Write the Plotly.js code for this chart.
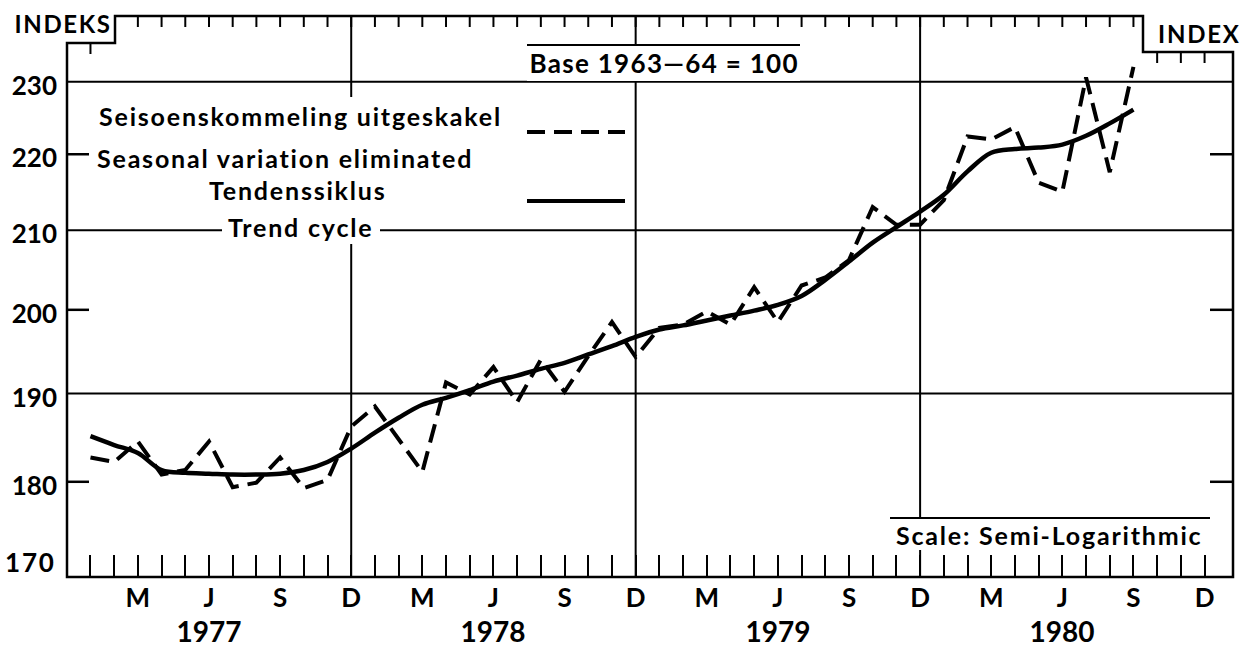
<!DOCTYPE html>
<html><head><meta charset="utf-8">
<script src="https://cdn.plot.ly/plotly-3.0.1.min.js"></script>
<style>
html,body{margin:0;padding:0;background:#fff}#chart{width:1244px;height:650px}
.annotation-text{letter-spacing:1.8px}
.annotation[data-index="4"] .annotation-text{letter-spacing:1.3px}
.annotation[data-index="6"] .annotation-text{letter-spacing:1.6px}
.annotation[data-index="8"] .annotation-text,.annotation[data-index="9"] .annotation-text,.annotation[data-index="10"] .annotation-text,.annotation[data-index="11"] .annotation-text{letter-spacing:0px}
</style>
</head><body><div id="chart"></div>
<script>
// ---- data ----
const months = [
 '1977-01','1977-02','1977-03','1977-04','1977-05','1977-06','1977-07','1977-08','1977-09','1977-10','1977-11','1977-12',
 '1978-01','1978-02','1978-03','1978-04','1978-05','1978-06','1978-07','1978-08','1978-09','1978-10','1978-11','1978-12',
 '1979-01','1979-02','1979-03','1979-04','1979-05','1979-06','1979-07','1979-08','1979-09','1979-10','1979-11','1979-12',
 '1980-01','1980-02','1980-03','1980-04','1980-05','1980-06','1980-07','1980-08','1980-09'];
const extraAxisMonths = ['1980-10','1980-11','1980-12'];
const seasonallyAdjusted = [
 182.7,182.2,184.5,180.8,181.3,184.5,179.4,179.9,182.7,179.3,180.2,186.2,
 188.5,184.7,181.1,191.3,189.9,193.1,189.0,194.0,190.2,194.4,198.5,194.3,
 197.8,198.2,199.8,198.2,202.8,198.5,203.0,204.0,206.2,213.0,210.7,210.7,
 213.9,222.4,222.0,223.7,216.2,215.0,230.6,217.6,232.1];
const trendCycle = [
 185.1,184.1,183.2,181.3,181.0,180.9,180.8,180.8,180.9,181.3,182.2,183.7,
 185.5,187.2,188.7,189.5,190.4,191.4,192.1,192.9,193.6,194.6,195.6,196.7,
 197.6,198.1,198.7,199.3,199.9,200.6,201.7,203.7,206.0,208.4,210.4,212.4,
 214.6,217.7,220.2,220.7,220.9,221.3,222.5,224.2,226.1];
const quarterLetters = {'03':'M','06':'J','09':'S','12':'D'};
const yearLabels = ['1977','1978','1979','1980'];
const yTickValues = [180,190,200,210,220,230];
const bottomValue = 170;
const gridValues = [190,210,230];
const shortTickValues = [180,200,220];
const decemberGrid = ['1977-12','1978-12','1979-12'];
const legendTexts = ['Seisoenskommeling uitgeskakel','Seasonal variation eliminated','Tendenssiklus','Trend cycle'];

// ---- geometry (pixels of the 1244x650 page) ----
const L = 67, R = 1233, T = 17, B = 577;
const fx = px => (px - L) / (R - L);
const fy = py => (B - py) / (B - T);
const FONT = 'Lato, "Open Sans", Roboto, sans-serif';
const axisMonths = months.concat(extraAxisMonths);
const idx = m => axisMonths.indexOf(m);

const shapes = [];
const line = (x0,y0,x1,y1,w,extra) => Object.assign({type:'line',xref:'paper',yref:'paper',x0:fx(x0),y0:fy(y0),x1:fx(x1),y1:fy(y1),line:{color:'#000',width:w}},extra||{});

gridValues.forEach(v => shapes.push({type:'line',xref:'paper',yref:'y',x0:0,x1:1,y0:v,y1:v,layer:'below',line:{color:'#000',width:2}}));
shortTickValues.forEach(v => {
  shapes.push({type:'line',xref:'paper',yref:'y',x0:0,x1:fx(89),y0:v,y1:v,layer:'below',line:{color:'#000',width:2.5}});
  shapes.push({type:'line',xref:'paper',yref:'y',x0:fx(1210),x1:1,y0:v,y1:v,layer:'below',line:{color:'#000',width:2.5}});
});
decemberGrid.forEach(m => shapes.push({type:'line',xref:'x',yref:'paper',x0:idx(m),x1:idx(m),y0:0,y1:1,layer:'below',line:{color:'#000',width:2}}));
shapes.push({type:'rect',xref:'paper',yref:'paper',x0:fx(92),x1:fx(510),y0:fy(97),y1:fy(220),layer:'below',fillcolor:'#fff',line:{width:0}});
shapes.push({type:'rect',xref:'paper',yref:'paper',x0:fx(222),x1:fx(380),y0:fy(218),y1:fy(244),layer:'below',fillcolor:'#fff',line:{width:0}});
shapes.push({type:'rect',xref:'paper',yref:'paper',x0:fx(527),x1:fx(800),y0:fy(45),y1:fy(81),layer:'below',fillcolor:'#fff',line:{width:0}});
shapes.push(line(527,45,800,45,1.8,{layer:'below'}));
shapes.push({type:'rect',xref:'paper',yref:'paper',x0:fx(890),x1:fx(1212),y0:fy(518),y1:fy(550),layer:'below',fillcolor:'#fff',line:{width:0}});
shapes.push(line(890,518,1210,518,1.8,{layer:'below'}));
shapes.push(line(527,132,625,132,4,{line:{color:'#000',width:4,dash:'18px,9px'}}));
shapes.push(line(527,201,625,201,4));
const P = (x,y) => fx(x).toFixed(5)+','+fy(y).toFixed(5);
shapes.push({type:'path',xref:'paper',yref:'paper',
  path:'M'+P(67,43)+' L'+P(115,43)+' L'+P(115,16)+' L'+P(1143,16)+' L'+P(1143,52)+' L'+P(1233,52)+' L'+P(1233,577)+' L'+P(67,577)+' Z',
  line:{color:'#000',width:2.5}});
axisMonths.forEach((m,i) => {
  let top = null;
  if (i === 0) top = 43;
  else if (i >= 2 && i <= 44) top = 16;
  else if (i >= 45) top = 52;
  if (top !== null) shapes.push({type:'line',xref:'x',yref:'paper',x0:i,x1:i,y0:fy(top),y1:fy(top+11),line:{color:'#000',width:2}});
});

const annotations = [];
const txt = (text,x,y,size,xanchor,extra) => Object.assign({text:text,xref:'paper',yref:'paper',x:fx(x),y:fy(y),xanchor:xanchor||'center',yanchor:'middle',showarrow:false,font:{family:FONT,size:size,color:'#000',weight:700}},extra||{});
annotations.push(txt(legendTexts[0],97,116,25,'left'));      // 0
annotations.push(txt(legendTexts[1],95,158,25,'left'));      // 1
annotations.push(txt(legendTexts[2],297,190,25,'center'));   // 2
annotations.push(txt(legendTexts[3],300,227,25,'center'));   // 3
annotations.push(txt('Base 1963\u201464 = 100',664,63,26,'center')); // 4
annotations.push(txt('Scale: Semi-Logarithmic',1049,535,25,'center')); // 5
annotations.push(txt('INDEKS',63,24,24,'center'));           // 6
annotations.push(txt('INDEX',1199,33,24,'center'));          // 7
yearLabels.forEach(yr => annotations.push({text:yr,xref:'x',yref:'paper',x:idx(yr+'-06'),y:fy(631),xanchor:'center',yanchor:'middle',showarrow:false,font:{family:FONT,size:28,color:'#000',weight:700}})); // 8-11
annotations.push({text:String(bottomValue),xref:'paper',yref:'y',x:0,y:Math.log10(bottomValue),xanchor:'right',yanchor:'middle',xshift:-9,yshift:13,showarrow:false,font:{family:FONT,size:26,color:'#000',weight:700}});

const traces = [
  {x:months,y:seasonallyAdjusted,type:'scatter',mode:'lines',name:'Seasonal variation eliminated',line:{color:'#000',width:4,dash:'19px,9px'},hoverinfo:'skip'},
  {x:months,y:trendCycle,type:'scatter',mode:'lines',name:'Trend cycle',line:{color:'#000',width:4.5,shape:'spline',smoothing:1},hoverinfo:'skip'}
];

const layout = {
  width:1244,height:650,paper_bgcolor:'#fff',plot_bgcolor:'rgba(0,0,0,0)',
  margin:{l:L,r:1244-R,t:T,b:650-B,pad:0},
  showlegend:false,
  font:{family:FONT,color:'#000'},
  xaxis:{type:'category',categoryorder:'array',categoryarray:axisMonths,range:[-0.99,48.2],
    tickmode:'array',tickvals:axisMonths,ticktext:axisMonths.map(m => quarterLetters[m.slice(5)] || ''),
    ticks:'inside',ticklen:22,tickwidth:2,tickcolor:'#000',showgrid:false,zeroline:false,showline:false,
    tickfont:{family:FONT,size:26,weight:700,color:'#000'},ticklabelstandoff:3},
  yaxis:{type:'log',range:[Math.log10(169.8),Math.log10(239.3)],tickmode:'array',tickvals:yTickValues,ticktext:yTickValues.map(String),
    ticks:'',showgrid:false,zeroline:false,showline:false,
    tickfont:{family:FONT,size:26,weight:700,color:'#000'},ticklabelshift:4,ticklabelstandoff:9},
  shapes:shapes,annotations:annotations
};
Plotly.newPlot('chart',traces,layout,{displayModeBar:false,staticPlot:true});
</script></body></html>
